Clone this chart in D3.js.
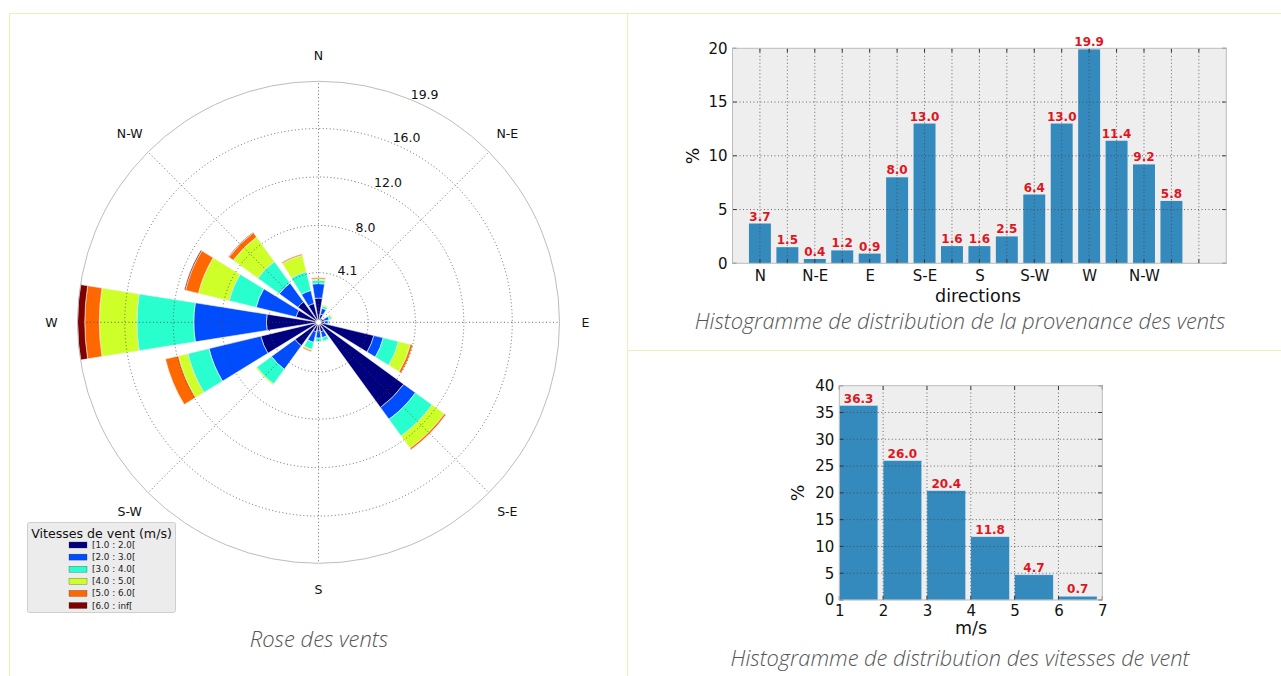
<!DOCTYPE html>
<html>
<head>
<meta charset="utf-8">
<script src="https://cdn.jsdelivr.net/npm/d3@7"></script>
<style>
  html, body { margin: 0; padding: 0; background: #ffffff; }
  svg { display: block; }
  .mpl { font-family: "DejaVu Sans", sans-serif; }
  .caption { font-family: "Open Sans", sans-serif; font-style: italic; font-weight: 300; fill: #555555; }
</style>
</head>
<body>
<svg id="chart" width="1281" height="676"></svg>
<script>
// ---------------- DATA ----------------
const directions = ["N","NNE","NE","ENE","E","ESE","SE","SSE","S","SSW","SW","WSW","W","WNW","NW","NNW"];
const compassLabels = ["N","N-E","E","S-E","S","S-W","W","N-W"];
const speedBinLabels = ["[1.0 : 2.0[","[2.0 : 3.0[","[3.0 : 4.0[","[4.0 : 5.0[","[5.0 : 6.0[","[6.0 : inf["];
const speedBinColors = ["#00007f","#004cff","#29ffce","#ceff29","#ff6800","#7f0000"];
// wind rose: % per direction for each speed bin
const bin1to2 = [2.0,0.7,0.25,0.5,0.5,4.7,8.7,0.8,0.7,0.8,2.4,4.9,4.3,1.9,2.1,1.6];
const bin2to3 = [1.2,0.5,0.15,0.4,0.3,0.8,1.2,0.5,0.6,0.9,2.4,4.4,6.0,3.4,1.9,1.1];
const bin3to4 = [0.3,0.2,0.0,0.2,0.1,1.3,1.7,0.3,0.3,0.6,1.5,1.8,4.7,2.3,2.2,1.6];
const bin4to5 = [0.1,0.1,0.0,0.1,0.0,1.0,1.25,0.0,0.0,0.1,0.1,0.8,3.1,2.6,2.5,1.4];
const bin5to6 = [0.1,0.0,0.0,0.0,0.0,0.2,0.15,0.0,0.0,0.1,0.0,1.1,1.2,1.1,0.45,0.1];
const bin6toInf = [0.0,0.0,0.0,0.0,0.0,0.0,0.0,0.0,0.0,0.0,0.0,0.0,0.6,0.1,0.05,0.0];
const roseRingTicks = [4.1, 8.0, 12.0, 16.0, 19.9];
// histogram of direction
const directionPercent = [3.7,1.5,0.4,1.2,0.9,8.0,13.0,1.6,1.6,2.5,6.4,13.0,19.9,11.4,9.2,5.8];
const directionYTicks = [0,5,10,15,20];
// histogram of speed
const speedBinStarts = [1,2,3,4,5,6];
const speedPercent = [36.3,26.0,20.4,11.8,4.7,0.7];
const speedXTicks = [1,2,3,4,5,6,7];
const speedYTicks = [0,5,10,15,20,25,30,35,40];

// ---------------- SETUP ----------------
const svg = d3.select("#chart");
const borderColor = "#efefb4";
svg.append("line").attr("x1",9.5).attr("x2",1281).attr("y1",13.5).attr("y2",13.5).attr("stroke",borderColor);
svg.append("line").attr("x1",9.5).attr("x2",9.5).attr("y1",13.5).attr("y2",676).attr("stroke",borderColor);
svg.append("line").attr("x1",627.5).attr("x2",627.5).attr("y1",13.5).attr("y2",676).attr("stroke",borderColor);
svg.append("line").attr("x1",627.5).attr("x2",1281).attr("y1",350.5).attr("y2",350.5).attr("stroke",borderColor);

const gridDash = "1,2.5";
const gridColor = "#444";

// ---------------- WIND ROSE ----------------
const cx = 318.5, cy = 322.3, R = 241;
const rScale = d3.scaleLinear().domain([0, 19.9]).range([0, R]);
const rose = svg.append("g").attr("class","mpl").attr("transform",`translate(${cx},${cy})`);
const binKeys = ["b0","b1","b2","b3","b4","b5"];
const binArrays = [bin1to2, bin2to3, bin3to4, bin4to5, bin5to6, bin6toInf];
const table = directions.map((d,i) => {
  const row = {dir: d, idx: i};
  binKeys.forEach((k,j) => row[k] = binArrays[j][i]);
  return row;
});
const stacked = d3.stack().keys(binKeys)(table);
const sector = 2*Math.PI/directions.length;
const opening = 0.8;
const arc = d3.arc();
stacked.forEach((series, j) => {
  rose.append("g").selectAll("path")
    .data(series.filter(s => s[1] - s[0] > 0))
    .join("path")
    .attr("d", s => arc({
      innerRadius: rScale(s[0]),
      outerRadius: rScale(s[1]),
      startAngle: s.data.idx*sector - opening*sector/2,
      endAngle: s.data.idx*sector + opening*sector/2
    }))
    .attr("fill", speedBinColors[j])
    .attr("stroke", "#f4f4f4")
    .attr("stroke-width", 0.6);
});
// grid circles (dotted) and outer frame
roseRingTicks.slice(0, -1).forEach(t => {
  rose.append("circle").attr("r", rScale(t)).attr("fill","none")
    .attr("stroke", gridColor).attr("stroke-width",0.8).attr("stroke-dasharray", gridDash);
});
for (let k = 0; k < 8; k++) {
  const a = k*Math.PI/4;
  rose.append("line").attr("x1",0).attr("y1",0)
    .attr("x2", R*Math.sin(a)).attr("y2", -R*Math.cos(a))
    .attr("stroke", gridColor).attr("stroke-width",0.8).attr("stroke-dasharray", gridDash);
}
rose.append("circle").attr("r", R).attr("fill","none").attr("stroke","#bdbdbd").attr("stroke-width",1);
rose.append("circle").attr("r", 3).attr("fill","#fff").attr("stroke","#999").attr("stroke-width",0.8);
// compass labels
compassLabels.forEach((lab,k) => {
  const a = k*Math.PI/4, rr = 267;
  rose.append("text").attr("x", rr*Math.sin(a)).attr("y", -rr*Math.cos(a))
    .attr("text-anchor","middle").attr("dominant-baseline","central")
    .attr("font-size",12.5).attr("fill","#111").text(lab);
});
// ring labels
const la = 22.5*Math.PI/180;
roseRingTicks.forEach(t => {
  rose.append("text").attr("x", rScale(t)*Math.sin(la)).attr("y", -rScale(t)*Math.cos(la) - 1)
    .attr("font-size",12.5).attr("fill","#111").text(t.toFixed(1));
});
// legend
const lg = svg.append("g").attr("class","mpl");
lg.append("rect").attr("x",27.5).attr("y",522.5).attr("width",148).attr("height",90).attr("rx",2)
  .attr("fill","#ececec").attr("stroke","#cfcfcf");
lg.append("text").attr("x",101.5).attr("y",537.5).attr("text-anchor","middle").attr("font-size",12.6).attr("fill","#111")
  .text("Vitesses de vent (m/s)");
speedBinLabels.forEach((lab,i) => {
  const y = 545 + i*12.1;
  lg.append("rect").attr("x",69).attr("y",y-3).attr("width",18).attr("height",6)
    .attr("fill",speedBinColors[i]).attr("stroke","#333").attr("stroke-width",0.3);
  lg.append("text").attr("x",92).attr("y",y).attr("dominant-baseline","central").attr("font-size",8.8).attr("fill","#222").text(lab);
});
svg.append("text").attr("class","caption").attr("x",319).attr("y",647).attr("text-anchor","middle").attr("font-size",22)
  .text("Rose des vents");

// ---------------- helper for matplotlib-like axes ----------------
function drawAxesFrame(g, x0, x1, y0, y1) {
  g.append("rect").attr("x",x0).attr("y",y1).attr("width",x1-x0).attr("height",y0-y1).attr("fill","#eeeeee");
}

// ---------------- DIRECTION HISTOGRAM ----------------
{
  const g = svg.append("g").attr("class","mpl");
  const x = d3.scaleLinear().domain([-1, 17]).range([732.5, 1226.3]);
  const y = d3.scaleLinear().domain([0, 20]).range([263.3, 48.3]);
  drawAxesFrame(g, 732.5, 1226.3, 263.3, 48.3);
  g.append("g").selectAll("rect").data(directionPercent).join("rect")
    .attr("x",(d,i)=>x(i-0.4)).attr("width", x(0.8)-x(0))
    .attr("y", d=>y(d)).attr("height", d=>y(0)-y(d)).attr("fill","#348abd");
  // grid
  const gx = d3.range(0,17);
  g.append("g").selectAll("line").data(gx).join("line")
    .attr("x1",d=>x(d)).attr("x2",d=>x(d)).attr("y1",y(0)).attr("y2",y(20))
    .attr("stroke",gridColor).attr("stroke-width",0.8).attr("stroke-dasharray",gridDash);
  g.append("g").selectAll("line").data([5,10,15]).join("line")
    .attr("x1",x(-1)).attr("x2",x(17)).attr("y1",d=>y(d)).attr("y2",d=>y(d))
    .attr("stroke",gridColor).attr("stroke-width",0.8).attr("stroke-dasharray",gridDash);
  // ticks (inward)
  g.append("g").selectAll("line").data(gx).join("line")
    .attr("x1",d=>x(d)).attr("x2",d=>x(d)).attr("y1",y(0)).attr("y2",y(0)-4).attr("stroke","#333");
  g.append("g").selectAll("line").data(gx).join("line")
    .attr("x1",d=>x(d)).attr("x2",d=>x(d)).attr("y1",y(20)).attr("y2",y(20)+4).attr("stroke","#333");
  g.append("g").selectAll("line").data(directionYTicks).join("line")
    .attr("x1",x(-1)).attr("x2",x(-1)+4).attr("y1",d=>y(d)).attr("y2",d=>y(d)).attr("stroke","#333");
  g.append("g").selectAll("line").data(directionYTicks).join("line")
    .attr("x1",x(17)).attr("x2",x(17)-4).attr("y1",d=>y(d)).attr("y2",d=>y(d)).attr("stroke","#333");
  g.append("rect").attr("x",732.5).attr("y",48.3).attr("width",1226.3-732.5).attr("height",263.3-48.3)
    .attr("fill","none").attr("stroke","#bcbcbc");
  // value labels
  g.append("g").selectAll("text").data(directionPercent).join("text")
    .attr("x",(d,i)=>x(i)).attr("y",d=>y(d)-3).attr("text-anchor","middle")
    .attr("font-size",12).attr("font-weight","bold").attr("fill","#e0161e").text(d=>d.toFixed(1));
  // axes
  const ax = g.append("g").attr("transform",`translate(0,${y(0)})`)
    .call(d3.axisBottom(x).tickValues(d3.range(0,16,2)).tickFormat((d,i)=>compassLabels[i]).tickSize(0).tickPadding(7));
  const ay = g.append("g").attr("transform",`translate(${x(-1)},0)`)
    .call(d3.axisLeft(y).tickValues(directionYTicks).tickFormat(d3.format("d")).tickSize(0).tickPadding(5));
  [ax, ay].forEach(a => { a.select(".domain").remove(); a.selectAll("text").attr("font-size",15).attr("fill","#111").attr("font-family","DejaVu Sans"); });
  g.append("text").attr("x",978).attr("y",302).attr("text-anchor","middle").attr("font-size",17.5).attr("fill","#111").text("directions");
  g.append("text").attr("transform","translate(693,156) rotate(-90)").attr("text-anchor","middle")
    .attr("dominant-baseline","central").attr("font-size",17.5).attr("fill","#111").text("%");
  svg.append("text").attr("class","caption").attr("x",960).attr("y",329).attr("text-anchor","middle").attr("font-size",21.8)
    .text("Histogramme de distribution de la provenance des vents");
}

// ---------------- SPEED HISTOGRAM ----------------
{
  const g = svg.append("g").attr("class","mpl");
  const x = d3.scaleLinear().domain([1, 7]).range([839.3, 1102.3]);
  const y = d3.scaleLinear().domain([0, 40]).range([600, 385.7]);
  drawAxesFrame(g, 839.3, 1102.3, 600, 385.7);
  g.append("g").selectAll("rect").data(speedPercent).join("rect")
    .attr("x",(d,i)=>x(speedBinStarts[i])).attr("width", x(1.88)-x(1))
    .attr("y", d=>y(d)).attr("height", d=>y(0)-y(d)).attr("fill","#348abd")
    .attr("stroke","#cfe3f0").attr("stroke-width",0.5);
  g.append("g").selectAll("line").data(speedXTicks.slice(1,-1)).join("line")
    .attr("x1",d=>x(d)).attr("x2",d=>x(d)).attr("y1",y(0)).attr("y2",y(40))
    .attr("stroke",gridColor).attr("stroke-width",0.8).attr("stroke-dasharray",gridDash);
  g.append("g").selectAll("line").data(speedYTicks.slice(1,-1)).join("line")
    .attr("x1",x(1)).attr("x2",x(7)).attr("y1",d=>y(d)).attr("y2",d=>y(d))
    .attr("stroke",gridColor).attr("stroke-width",0.8).attr("stroke-dasharray",gridDash);
  g.append("g").selectAll("line").data(speedXTicks).join("line")
    .attr("x1",d=>x(d)).attr("x2",d=>x(d)).attr("y1",y(0)).attr("y2",y(0)-4).attr("stroke","#333");
  g.append("g").selectAll("line").data(speedXTicks).join("line")
    .attr("x1",d=>x(d)).attr("x2",d=>x(d)).attr("y1",y(40)).attr("y2",y(40)+4).attr("stroke","#333");
  g.append("g").selectAll("line").data(speedYTicks).join("line")
    .attr("x1",x(1)).attr("x2",x(1)+4).attr("y1",d=>y(d)).attr("y2",d=>y(d)).attr("stroke","#333");
  g.append("g").selectAll("line").data(speedYTicks).join("line")
    .attr("x1",x(7)).attr("x2",x(7)-4).attr("y1",d=>y(d)).attr("y2",d=>y(d)).attr("stroke","#333");
  g.append("rect").attr("x",839.3).attr("y",385.7).attr("width",1102.3-839.3).attr("height",600-385.7)
    .attr("fill","none").attr("stroke","#bcbcbc");
  g.append("g").selectAll("text").data(speedPercent).join("text")
    .attr("x",(d,i)=>x(speedBinStarts[i]+0.44)).attr("y",d=>y(d)-3).attr("text-anchor","middle")
    .attr("font-size",12).attr("font-weight","bold").attr("fill","#e0161e").text(d=>d.toFixed(1));
  const ax = g.append("g").attr("transform",`translate(0,${y(0)})`)
    .call(d3.axisBottom(x).tickValues(speedXTicks).tickFormat(d3.format("d")).tickSize(0).tickPadding(5));
  const ay = g.append("g").attr("transform",`translate(${x(1)},0)`)
    .call(d3.axisLeft(y).tickValues(speedYTicks).tickFormat(d3.format("d")).tickSize(0).tickPadding(5));
  [ax, ay].forEach(a => { a.select(".domain").remove(); a.selectAll("text").attr("font-size",15).attr("fill","#111").attr("font-family","DejaVu Sans"); });
  g.append("text").attr("x",971).attr("y",634).attr("text-anchor","middle").attr("font-size",17.5).attr("fill","#111").text("m/s");
  g.append("text").attr("transform","translate(798,493) rotate(-90)").attr("text-anchor","middle")
    .attr("dominant-baseline","central").attr("font-size",17.5).attr("fill","#111").text("%");
  svg.append("text").attr("class","caption").attr("x",960).attr("y",666).attr("text-anchor","middle").attr("font-size",21.8)
    .text("Histogramme de distribution des vitesses de vent");
}
</script>
</body>
</html>
